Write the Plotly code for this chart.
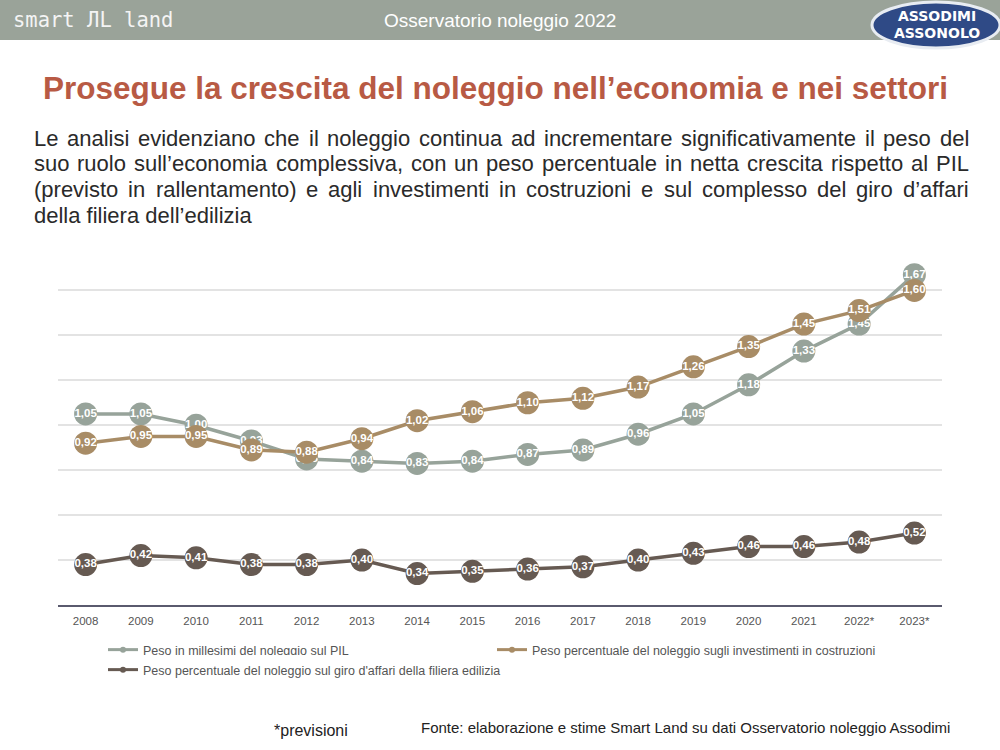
import plotly.graph_objects as go

years = ["2008", "2009", "2010", "2011", "2012", "2013", "2014", "2015",
         "2016", "2017", "2018", "2019", "2020", "2021", "2022*", "2023*"]
pil = [1.05, 1.05, 1.00, 0.93, 0.85, 0.84, 0.83, 0.84, 0.87, 0.89, 0.96, 1.05, 1.18, 1.33, 1.45, 1.67]
costruzioni = [0.92, 0.95, 0.95, 0.89, 0.88, 0.94, 1.02, 1.06, 1.10, 1.12, 1.17, 1.26, 1.35, 1.45, 1.51, 1.60]
filiera = [0.38, 0.42, 0.41, 0.38, 0.38, 0.40, 0.34, 0.35, 0.36, 0.37, 0.40, 0.43, 0.46, 0.46, 0.48, 0.52]

names = ["Peso in millesimi del noleggio sul PIL",
         "Peso percentuale del noleggio sugli investimenti in costruzioni",
         "Peso percentuale del noleggio sul giro d'affari della filiera edilizia"]
colors = ["#97a39a", "#a88c66", "#665a52"]

title = "Prosegue la crescita del noleggio nell’economia e nei settori"
para = ["Le analisi evidenziano che il noleggio continua ad incrementare significativamente il peso del",
        "suo ruolo sull’economia complessiva, con un peso percentuale in netta crescita rispetto al PIL",
        "(previsto in rallentamento) e agli investimenti in costruzioni e sul complesso del giro d’affari",
        "della filiera dell’edilizia"]

fig = go.Figure()
for vals, name, col in zip([pil, costruzioni, filiera], names, colors):
    fig.add_trace(go.Scatter(
        x=years, y=vals, name=name, mode="lines+markers+text", showlegend=False,
        line=dict(color=col, width=3.5),
        marker=dict(color=col, size=23),
        texttemplate="%{y:.2f}", textposition="middle center",
        textfont=dict(color="white", size=11.5, family="Liberation Sans, Arial", weight="bold"),
        cliponaxis=False,
    ))
# legend entries (small symbols as in the reference); first two share a row
for k, (name, col) in enumerate(zip(names, colors)):
    fig.add_trace(go.Scatter(x=[None], y=[None], name=name, mode="lines+markers",
                             legend="legend" if k < 2 else "legend2",
                             line=dict(color=col, width=3), marker=dict(color=col, size=6)))

W, H = 1000, 750
ml, mr, mt, mb = 58, 58, 245, 145


def px(xp):
    return (xp - ml) / (W - ml - mr)


def py(yp):
    return (H - mb - yp) / (H - mt - mb)


legfont = dict(size=12.5, color="#555555", family="Liberation Sans Narrow, Liberation Sans, Arial")
fig.update_layout(
    width=W, height=H, separators=",.",
    margin=dict(l=ml, r=mr, t=mt, b=mb),
    paper_bgcolor="white", plot_bgcolor="white",
    font=dict(family="Liberation Sans, Arial", color="#555555"),
    xaxis=dict(type="category", range=[-0.5, 15.5], showgrid=False,
               showline=True, linecolor="#5a5a6e", linewidth=2,
               ticks="outside", ticklen=4, tickcolor="rgba(0,0,0,0)",
               tickfont=dict(size=11.5, color="#555555")),
    yaxis=dict(range=[0.2, 1.802], dtick=0.2, showticklabels=False,
               showgrid=True, gridcolor="#e3e3e3", gridwidth=1.5,
               zeroline=False, showline=False),
    showlegend=True,
    legend=dict(orientation="h", x=px(103), xanchor="left",
                y=py(635), yanchor="top", entrywidth=344, entrywidthmode="pixels",
                font=legfont, itemwidth=30, tracegroupgap=0),
    legend2=dict(orientation="h", x=px(103), xanchor="left",
                 y=py(655), yanchor="top",
                 font=legfont, itemwidth=30, tracegroupgap=0),
)

shapes = [
    dict(type="rect", xref="paper", yref="paper", x0=px(0), x1=px(W),
         y0=py(40), y1=py(0), fillcolor="#9aa399", line=dict(width=0), layer="below"),
    dict(type="circle", xref="paper", yref="paper",
         x0=px(872), x1=px(1000), y0=py(48), y1=py(2),
         fillcolor="#2f4a86", line=dict(color="#e8ecf2", width=3)),
]
fig.update_layout(shapes=shapes)

# Arial / Liberation Sans advance widths (per 1000 em) for justified paragraph
AW = {' ': 278, '(': 333, ')': 333, ',': 278, '.': 278, '’': 222, "'": 191,
      'L': 556, 'P': 667, 'I': 278,
      'a': 556, 'b': 556, 'c': 500, 'd': 556, 'e': 556, 'f': 278, 'g': 556, 'h': 556,
      'i': 222, 'j': 222, 'k': 500, 'l': 222, 'm': 833, 'n': 556, 'o': 556, 'p': 556,
      'q': 556, 'r': 333, 's': 500, 't': 278, 'u': 556, 'v': 500, 'w': 722, 'x': 500,
      'y': 500, 'z': 500}


def tw(s, size):
    return sum(AW.get(c, 556) for c in s) * size / 1000.0


ann = []
ann.append(dict(text="smart ЛL land", x=px(12), y=py(20), xanchor="left", yanchor="middle",
                font=dict(size=20.5, color="#f4f4f4", family="DejaVu Sans Mono")))
ann.append(dict(text="Osservatorio noleggio 2022", x=px(500), y=py(20), xanchor="center", yanchor="middle",
                font=dict(size=19, color="white", family="Liberation Sans Narrow, Liberation Sans")))
ann.append(dict(text="<b>ASSODIMI</b>", x=px(937), y=py(16), xanchor="center", yanchor="middle",
                font=dict(size=14, color="white", family="DejaVu Sans")))
ann.append(dict(text="<b>ASSONOLO</b>", x=px(937), y=py(33), xanchor="center", yanchor="middle",
                font=dict(size=14, color="white", family="DejaVu Sans")))
ann.append(dict(text="<b>" + title + "</b>", x=px(495), y=py(88), xanchor="center", yanchor="middle",
                font=dict(size=31.5, color="#b85a44", family="Liberation Sans, Arial")))

PS = 22
left, right = 33, 968
for i, line in enumerate(para):
    ycen = 138 + i * 25.7
    words = line.split(" ")
    if i == len(para) - 1:
        ann.append(dict(text=line, x=px(left), y=py(ycen), xanchor="left", yanchor="middle",
                        font=dict(size=PS, color="#2a2a2a", family="Liberation Sans, Arial")))
        continue
    widths = [tw(w, PS) for w in words]
    gap = (right - left - sum(widths)) / (len(words) - 1)
    xpos = left
    for w, wd in zip(words, widths):
        ann.append(dict(text=w, x=px(xpos), y=py(ycen), xanchor="left", yanchor="middle",
                        font=dict(size=PS, color="#2a2a2a", family="Liberation Sans, Arial")))
        xpos += wd + gap

ann.append(dict(text="*previsioni", x=px(273), y=py(730), xanchor="left", yanchor="middle",
                font=dict(size=16, color="#222222", family="Liberation Sans, Arial")))
ann.append(dict(text="Fonte: elaborazione e stime Smart Land su dati Osservatorio noleggio Assodimi",
                x=px(420), y=py(727), xanchor="left", yanchor="middle",
                font=dict(size=15, color="#222222", family="Liberation Sans, Arial")))
for a in ann:
    a.update(xref="paper", yref="paper", showarrow=False, borderpad=0)
fig.update_layout(annotations=ann)

fig.write_html("out.html", post_script="document.body.style.margin='0';",
               config={"displayModeBar": False})
